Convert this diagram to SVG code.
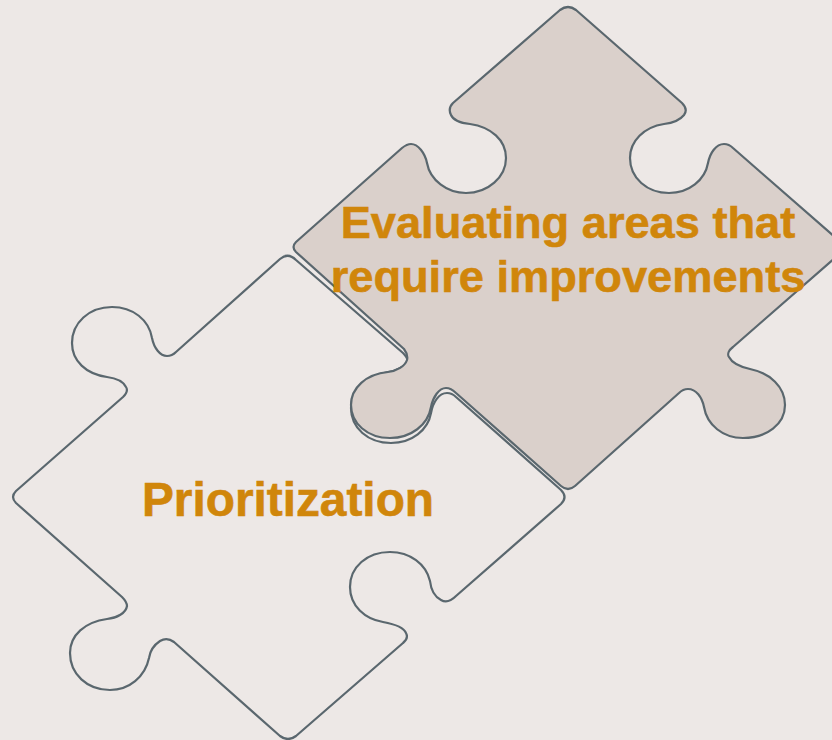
<svg xmlns="http://www.w3.org/2000/svg" width="832" height="740" viewBox="0 0 832 740">
<style>
.p{stroke:#5A676E;stroke-width:2.2;stroke-linejoin:round}
.t{font-family:"Liberation Sans",Arial,sans-serif;font-weight:700;fill:#D0860B;stroke:#D0860B;stroke-width:.6;text-anchor:middle}
</style>
<rect width="832" height="740" fill="#EDE8E6"/>
<g id="node-prioritization">
<path class="p" fill="#EDE8E6" d="M280 259 Q288 252 296 260 L403 353 C407 357 408 360 407 362 C404 367 396 371 388 372 C366 376 351 390 351 408 C351 428 368 443 391 443 C412 443 428 430 431 413 C433 402 439 393 447 393 Q452 393 456 397 L561 490 Q568 497 561 504 L456 596 C451 601 446 603 441 600 C435 597 431 590 430 581 C426 564 410 552 390 552 C367 552 350 567 350 587 C350 606 365 619 383 622 C394 624 404 628 406 633 C408 637 407 640 403 643 L296 736 Q288 742 280 736 L174 642 C170 639 165 638 160 641 C154 645 150 651 149 658 C145 677 129 690 110 690 C87 690 70 674 70 653 C70 635 85 622 107 619 C117 618 126 613 127 606 C127 602 125 600 122 597 L16 503 Q10 497 16 491 L123 397 C127 393 128 390 126 387 C123 381 115 378 107 377 C86 374 72 361 72 343 C72 323 89 307 112 307 C133 307 149 320 152 338 C154 348 160 356 167 356 Q172 356 176 352 Z"/>
<text class="t" x="288" y="516" font-size="47.8">Prioritization</text>
</g>
<g id="node-evaluating">
<path class="p" fill="#DAD0CB" d="M560 10 Q568 4 576 10 L682 103 C686 107 687 111 684 115 C680 120 673 123 664 124 C644 127 630 141 630 158 C630 178 647 193 669 193 C689 193 705 180 708 163 C710 153 716 144 724 144 Q729 144 733 148 L836 238 Q846 248 836 257 L733 347 C729 350 727 354 729 357 C732 363 741 367 750 369 C770 373 785 387 785 405 C785 424 767 438 743 438 C723 438 707 425 704 407 C702 397 696 389 688 389 Q683 389 679 393 L575 486 Q568 492 561 486 L456 393 Q451 388 446 388 C439 388 433 397 431 407 C428 425 411 438 390 438 C367 438 351 423 351 405 C351 388 366 374 388 372 C397 371 405 366 407 360 C408 356 407 353 404 349 L296 252 Q291 247 296 242 L402 148 Q407 144 411 144 C418 144 425 153 427 163 C430 180 447 193 466 193 C488 193 506 177 506 158 C506 140 491 127 470 124 C461 123 453 120 451 115 C449 111 449 107 453 103 Z"/>
<text class="t" font-size="45.2"><tspan x="568" y="238">Evaluating areas that</tspan><tspan x="568" y="292">require improvements</tspan></text>
</g>
<g id="connectors"/>
</svg>
